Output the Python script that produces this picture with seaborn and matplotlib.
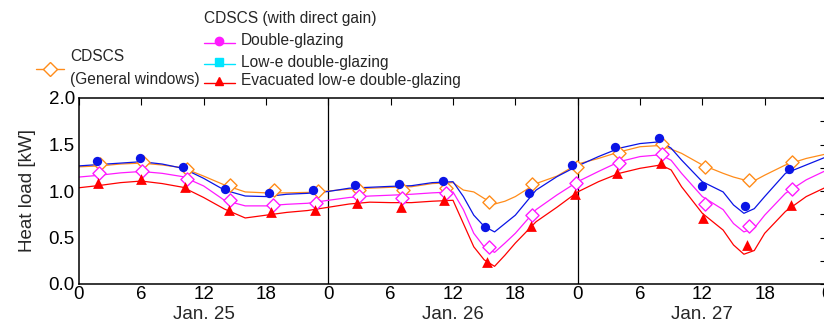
import numpy as np
import pandas as pd
import matplotlib
matplotlib.use("Agg")
import matplotlib.pyplot as plt
from matplotlib.lines import Line2D
from matplotlib.ticker import MultipleLocator, FixedLocator
import seaborn as sns

# ---------------- data ----------------
hours = [0, 2, 4, 6, 8, 10, 12, 14, 16, 18, 20, 22, 24, 26, 28, 30, 32, 34, 36, 37, 38,
         39, 40, 41, 42, 44, 46, 48, 50, 52, 54, 56, 57, 58, 60, 62, 63, 64, 65, 66,
         68, 70, 72]
general = [1.26, 1.27, 1.29, 1.30, 1.28, 1.25, 1.16, 1.065, 0.99, 0.98, 0.98, 0.985, 1.0,
           1.02, 1.03, 1.04, 1.046, 1.08, 1.09, 1.01, 0.99, 0.92, 0.86, 0.89, 0.94, 1.08,
           1.16, 1.29, 1.35, 1.42, 1.476, 1.49, 1.45, 1.405, 1.28, 1.19, 1.15, 1.12, 1.11,
           1.17, 1.28, 1.35, 1.40]
blue = [1.27, 1.285, 1.30, 1.315, 1.29, 1.244, 1.136, 1.01, 0.946, 0.94, 0.965, 0.975,
        0.995, 1.03, 1.04, 1.05, 1.057, 1.09, 1.10, 0.94, 0.74, 0.62, 0.56, 0.65, 0.74,
        1.01, 1.154, 1.27, 1.37, 1.46, 1.51, 1.53, 1.46, 1.333, 1.10, 0.99, 0.85, 0.76,
        0.81, 0.94, 1.19, 1.28, 1.37]
magenta = [1.15, 1.17, 1.195, 1.21, 1.19, 1.154, 1.054, 0.90, 0.84, 0.84, 0.857, 0.868,
           0.90, 0.93, 0.946, 0.955, 0.965, 0.98, 0.99, 0.80, 0.545, 0.40, 0.34, 0.44,
           0.545, 0.80, 0.957, 1.10, 1.21, 1.315, 1.37, 1.39, 1.33, 1.19, 0.94, 0.80,
           0.65, 0.56, 0.60, 0.74, 0.975, 1.12, 1.226]
red = [1.035, 1.06, 1.09, 1.107, 1.08, 1.04, 0.93, 0.806, 0.71, 0.74, 0.77, 0.79, 0.825,
       0.86, 0.88, 0.875, 0.875, 0.89, 0.90, 0.65, 0.40, 0.26, 0.19, 0.31, 0.44, 0.67,
       0.825, 0.99, 1.10, 1.19, 1.244, 1.28, 1.226, 1.046, 0.76, 0.58, 0.42, 0.32, 0.36,
       0.545, 0.78, 0.94, 1.046]

mk_general_h = [2.0, 6.2, 10.35, 14.5, 18.8, 23.0, 26.95, 31.2, 35.3, 39.45, 43.6, 47.9,
                52.0, 56.1, 60.3, 64.45, 68.6]
mk_general_v = [1.29, 1.315, 1.24, 1.065, 1.01, 1.0, 1.01, 1.01, 1.03, 0.878, 1.07, 1.255,
                1.405, 1.51, 1.255, 1.118, 1.31]
mk_blue_h = [1.7, 5.9, 10.0, 14.1, 18.3, 22.5, 26.6, 30.8, 35.0, 39.1, 43.3, 47.5, 51.6,
             55.8, 60.0, 64.1, 68.3]
mk_blue_v = [1.32, 1.35, 1.255, 1.025, 0.98, 1.01, 1.065, 1.08, 1.11, 0.61, 0.98, 1.276,
             1.476, 1.573, 1.057, 0.84, 1.237]
mk_magenta_h = [1.95, 6.1, 10.35, 14.5, 18.7, 22.85, 26.95, 31.1, 35.3, 39.45, 43.6, 47.8,
                52.0, 56.1, 60.3, 64.45, 68.6]
mk_magenta_v = [1.19, 1.21, 1.126, 0.90, 0.85, 0.875, 0.946, 0.93, 0.975, 0.40, 0.74,
                1.083, 1.305, 1.40, 0.86, 0.627, 1.02]
mk_red_h = [1.86, 5.96, 10.2, 14.4, 18.5, 22.7, 26.8, 31.0, 35.1, 39.3, 43.5, 47.7, 51.8,
            56.0, 60.1, 64.3, 68.5]
mk_red_v = [1.09, 1.13, 1.04, 0.795, 0.77, 0.80, 0.875, 0.83, 0.90, 0.24, 0.62, 0.97, 1.19,
            1.30, 0.706, 0.42, 0.85]

x_tick_pos = [0, 6, 12, 18, 24, 30, 36, 42, 48, 54, 60, 66, 72]
x_tick_labels = ["0", "6", "12", "18", "0", "6", "12", "18", "0", "6", "12", "18", "0"]
day_pos = [12, 36, 60]
day_labels = ["Jan. 25", "Jan. 26", "Jan. 27"]
legend_left = "CDSCS\n(General windows)"
legend_title = "CDSCS (with direct gain)"
legend_right = ["Double-glazing", "Low-e double-glazing", "Evacuated low-e double-glazing"]

# ---------------- style ----------------
sns.set_style("white")
plt.rcParams['font.family'] = ['Liberation Sans', 'DejaVu Sans']

C_OR = "#FF8C1A"
C_BL = "#0A14E6"
C_MG = "#FF1AFF"
C_RD = "#FF0000"
C_CY = "#00E5FF"

W, H = 824, 325
fig = plt.figure(figsize=(W / 100, H / 100), dpi=100)
ax = fig.add_axes([79 / W, 1 - 284 / H, (827 - 79) / W, (284 - 98) / H])

lw = 0.9
for vals, col in [(general, C_OR), (blue, C_BL), (magenta, C_MG), (red, C_RD)]:
    sns.lineplot(x=hours, y=vals, ax=ax, color=col, linewidth=lw, estimator=None,
                 sort=False, legend=False)

sns.scatterplot(x=mk_general_h, y=mk_general_v, ax=ax, marker="D", s=45,
                facecolor="white", edgecolor=C_OR, linewidth=1.0, zorder=5, legend=False)
sns.scatterplot(x=mk_magenta_h, y=mk_magenta_v, ax=ax, marker="D", s=45,
                facecolor="white", edgecolor=C_MG, linewidth=1.0, zorder=5, legend=False)
sns.scatterplot(x=mk_blue_h, y=mk_blue_v, ax=ax, marker="o", s=45,
                color=C_BL, edgecolor=C_BL, linewidth=0, zorder=6, legend=False)
sns.scatterplot(x=mk_red_h, y=mk_red_v, ax=ax, marker="^", s=60,
                color=C_RD, edgecolor=C_RD, linewidth=0, zorder=6, legend=False)

for d in [24, 48]:
    ax.axvline(d, color="black", linewidth=0.9, zorder=1)

ax.set_xlim(0, 72)
ax.set_ylim(0, 2.0)
ax.xaxis.set_major_locator(FixedLocator(x_tick_pos))
ax.set_xticklabels(x_tick_labels)
ax.yaxis.set_major_locator(MultipleLocator(0.5))
ax.yaxis.set_minor_locator(MultipleLocator(0.25))
ax.yaxis.set_major_formatter(matplotlib.ticker.FormatStrFormatter("%.1f"))
ax.tick_params(axis="both", which="both", direction="in", length=5, width=0.8,
               top=True, right=True, labelsize=13.5, colors="black", pad=3)
ax.tick_params(axis="x", pad=1.5)
for sp in ax.spines.values():
    sp.set_color("black")
    sp.set_linewidth(1.1)
ax.set_xlabel("")
ax.set_ylabel("Heat load [kW]", fontsize=13.5, labelpad=9)

for p, lab in zip(day_pos, day_labels):
    ax.text(p, -0.12, lab, transform=ax.get_xaxis_transform(), ha="center", va="top",
            fontsize=13.5)

# ---------------- legend (drawn in figure pixels) ----------------
def fx(px):
    return px / W

def fy(py):
    return 1 - py / H

fs = 11.2
# left entry
fig.add_artist(Line2D([fx(36), fx(64)], [fy(69), fy(69)], color=C_OR, linewidth=1,
                      transform=fig.transFigure))
fig.add_artist(Line2D([fx(50)], [fy(69)], color=C_OR, marker="D", markersize=7,
                      markerfacecolor="white", markeredgecolor=C_OR, linestyle="none",
                      transform=fig.transFigure))
fig.text(fx(70), fy(68), legend_left, ha="left", va="center", fontsize=fs,
         linespacing=1.65)

# right block
fig.text(fx(204), fy(19), legend_title, ha="left", va="center", fontsize=fs)
ys = [41, 62, 81]
cols = [C_MG, C_CY, C_RD]
mks = ["o", "s", "^"]
for yy, col, mk, lab in zip(ys, cols, mks, legend_right):
    fig.add_artist(Line2D([fx(204), fx(235)], [fy(yy + 2), fy(yy + 2)], color=col,
                          linewidth=1, transform=fig.transFigure))
    fig.add_artist(Line2D([fx(219)], [fy(yy)], color=col, marker=mk, markersize=6,
                          linestyle="none", transform=fig.transFigure))
    fig.text(fx(241), fy(yy), lab, ha="left", va="center", fontsize=fs)

fig.savefig("out.png", dpi=100)
